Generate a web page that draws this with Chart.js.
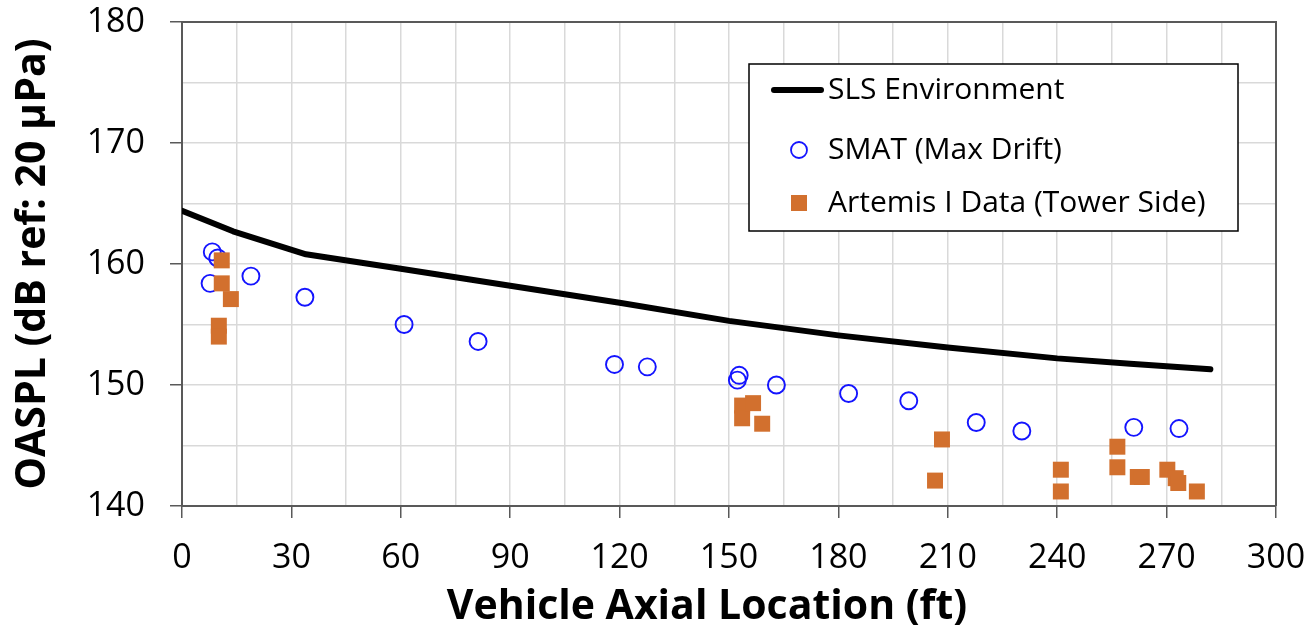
<!DOCTYPE html>
<html><head><meta charset="utf-8">
<script src="https://cdn.jsdelivr.net/npm/chart.js@4.4.1/dist/chart.umd.min.js"></script>
<style>html,body{margin:0;padding:0;background:#fff;overflow:hidden}</style></head>
<body>
<canvas id="c" width="1311" height="642"></canvas>
<script>
// ---- data ----
const slsX = [0, 14, 34, 60, 90, 120, 150, 180, 210, 240, 260, 282];
const slsY = [164.4, 162.7, 160.8, 159.6, 158.2, 156.8, 155.3, 154.1, 153.1, 152.2, 151.75, 151.3];

const smatX = [8.3, 9.8, 7.7, 18.9, 33.7, 60.9, 81.2, 118.6, 127.6, 152.8, 152.3, 163.0, 182.8, 199.3, 217.8, 230.3, 261.0, 273.4];
const smatY = [161.0, 160.5, 158.4, 159.0, 157.25, 155.0, 153.6, 151.7, 151.5, 150.8, 150.4, 150.0, 149.3, 148.7, 146.9, 146.2, 146.5, 146.4];

const artX = [10.9, 10.9, 13.4, 10.1, 10.1, 153.6, 153.6, 156.6, 159.1, 208.4, 206.5, 241.0, 241.0, 256.5, 256.5, 262.1, 263.2, 270.2, 272.5, 273.2, 278.3];
const artY = [160.3, 158.4, 157.1, 154.9, 154.0, 148.3, 147.25, 148.5, 146.8, 145.5, 142.1, 143.0, 141.2, 144.9, 143.2, 142.4, 142.4, 143.0, 142.3, 141.9, 141.2];

const xTickLabels = [0, 30, 60, 90, 120, 150, 180, 210, 240, 270, 300];
const yTickLabels = [140, 150, 160, 170, 180];

const seriesNames = ['SLS Environment', 'SMAT (Max Drift)', 'Artemis I Data (Tower Side)'];
const xTitle = 'Vehicle Axial Location (ft)';
const yTitle = 'OASPL (dB ref: 20 μPa)';

const toPts = (xs, ys) => xs.map((x, i) => ({x: x, y: ys[i]}));

const FONT = "'Open Sans', 'Liberation Sans', sans-serif";
const AXIS = '#595959';
const GRID = '#d9d9d9';
const BLUE = '#1414ff';
const ORANGE = '#d2702e';

const frame = {
  id: 'frame',
  beforeDatasetsDraw(chart) {
    const {ctx, chartArea: a} = chart;
    ctx.save();
    ctx.strokeStyle = AXIS;
    ctx.lineWidth = 2;
    ctx.beginPath();
    ctx.moveTo(a.left, a.top); ctx.lineTo(a.right, a.top); ctx.lineTo(a.right, a.bottom);
    ctx.stroke();
    ctx.restore();
  }
};

const extras = {
  id: 'extras',
  afterDraw(chart) {
    const ctx = chart.ctx;
    ctx.save();
    // x axis title
    ctx.fillStyle = '#000';
    ctx.font = "bold 41px " + FONT;
    ctx.textAlign = 'center'; ctx.textBaseline = 'middle';
    ctx.fillText(xTitle, 707, 607);
    // legend
    ctx.fillStyle = '#fff';
    ctx.fillRect(749, 64, 489, 167);
    ctx.strokeStyle = '#000';
    ctx.lineWidth = 1.5;
    ctx.strokeRect(749, 64, 489, 167);
    const rows = [90, 150, 203];
    ctx.strokeStyle = '#000'; ctx.lineWidth = 6; ctx.lineCap = 'round';
    ctx.beginPath(); ctx.moveTo(774, rows[0]); ctx.lineTo(821, rows[0]); ctx.stroke();
    ctx.strokeStyle = BLUE; ctx.lineWidth = 1.8;
    ctx.beginPath(); ctx.arc(799, rows[1], 8, 0, Math.PI * 2); ctx.stroke();
    ctx.fillStyle = ORANGE; ctx.fillRect(791, rows[2] - 8, 16, 16);
    ctx.fillStyle = '#000';
    ctx.font = "30px " + FONT;
    ctx.textBaseline = 'middle'; ctx.textAlign = 'left';
    seriesNames.forEach((n, i) => ctx.fillText(n, 828, rows[i]));
    ctx.restore();
  }
};

new Chart(document.getElementById('c'), {
  type: 'scatter',
  data: {
    datasets: [
      {label: seriesNames[0], data: toPts(slsX, slsY), showLine: true, borderColor: '#000', borderWidth: 6,
       pointRadius: 0, tension: 0, borderCapStyle: 'round', borderJoinStyle: 'round', order: 3},
      {label: seriesNames[1], data: toPts(smatX, smatY), pointStyle: 'circle', pointRadius: 8.5,
       borderColor: BLUE, borderWidth: 1.9, backgroundColor: 'rgba(0,0,0,0)', order: 2},
      {label: seriesNames[2], data: toPts(artX, artY), pointStyle: 'rect', pointRadius: 11.3,
       borderWidth: 0, borderColor: ORANGE, backgroundColor: ORANGE, order: 1}
    ]
  },
  options: {
    responsive: false,
    animation: false,
    layout: {padding: {top: 22, right: 35, left: 0, bottom: 0}},
    plugins: {legend: {display: false}, tooltip: {enabled: false}},
    scales: {
      x: {
        type: 'linear', min: 0, max: 300,
        afterFit: s => { s.height = 136; s.paddingLeft = 0; s.paddingRight = 0; },
        afterBuildTicks: s => { const t = []; for (let v = 0; v <= 300; v += 15) t.push({value: v}); s.ticks = t; },
        ticks: {
          autoSkip: false, maxRotation: 0, padding: 20, color: '#000',
          font: {family: FONT, size: 34},
          callback: v => xTickLabels.includes(v) ? String(v) : ''
        },
        grid: {color: GRID, lineWidth: 1.5, tickLength: 12,
               tickColor: c => (c.tick && c.tick.value % 30 === 0) ? AXIS : 'rgba(0,0,0,0)', tickWidth: 1.5},
        border: {color: AXIS, width: 2},
        title: {display: false}
      },
      y: {
        type: 'linear', min: 140, max: 180,
        afterFit: s => { s.width = 182; s.paddingTop = 0; s.paddingBottom = 0; },
        afterBuildTicks: s => { const t = []; for (let v = 140; v <= 180; v += 5) t.push({value: v}); s.ticks = t; },
        ticks: {
          autoSkip: false, padding: 25, color: '#000',
          font: {family: FONT, size: 34},
          callback: v => yTickLabels.includes(v) ? String(v) : ''
        },
        grid: {color: GRID, lineWidth: 1.5, tickLength: 12,
               tickColor: c => (c.tick && c.tick.value % 10 === 0) ? AXIS : 'rgba(0,0,0,0)', tickWidth: 1.5},
        border: {color: AXIS, width: 2},
        title: {display: true, text: yTitle, color: '#000',
                font: {family: FONT, size: 41, weight: 'bold'}, padding: {top: 9, bottom: 0}}
      }
    }
  },
  plugins: [frame, extras]
});
</script>
</body></html>
